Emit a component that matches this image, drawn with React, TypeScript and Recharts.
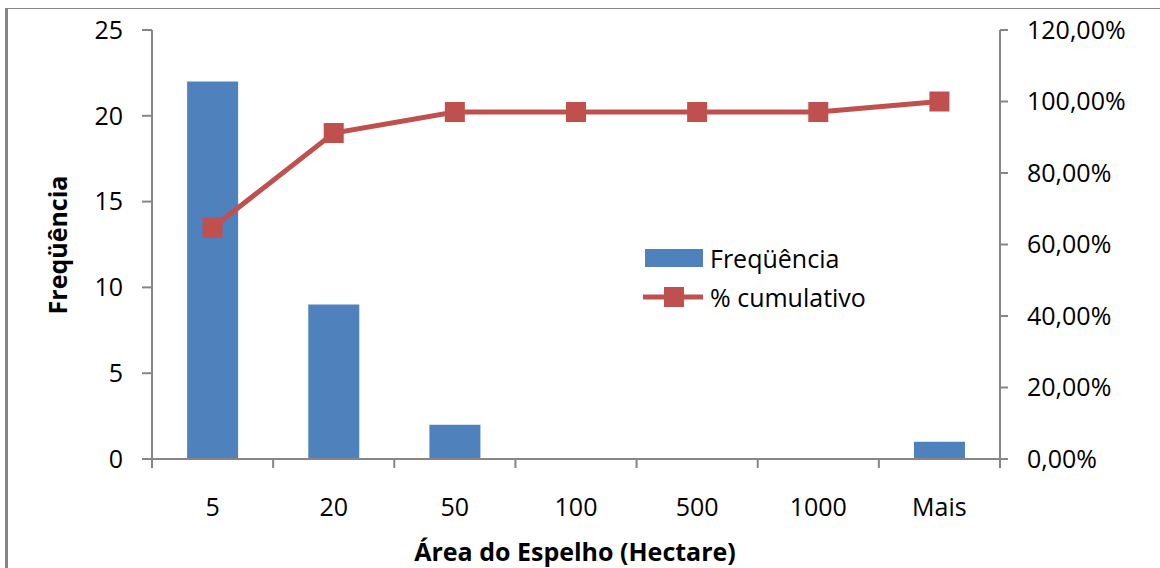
import React from "react";
import { ComposedChart, Bar, Line, XAxis, YAxis } from "recharts";

const categories = ["5", "20", "50", "100", "500", "1000", "Mais"];
const frequencia = [22, 9, 2, 0, 0, 0, 1];
const cumulativo = [0.6471, 0.9118, 0.9706, 0.9706, 0.9706, 0.9706, 1.0];
const leftTicks = [0, 5, 10, 15, 20, 25];
const rightTicks = [0, 0.2, 0.4, 0.6, 0.8, 1.0, 1.2];

const data = categories.map((c, i) => ({ cat: c, freq: frequencia[i], cum: cumulativo[i] }));

const FONT = "'Open Sans', sans-serif";
const FS = 25;
const AXIS = "#868686";
const BLUE = "#4F81BD";
const RED = "#C0504D";
const PLOT_W = 848;

const pct = (v: number) => (v * 100).toFixed(2).replace(".", ",") + "%";

const XTick = (props: any) => {
  const { x, y, payload, index } = props;
  const half = PLOT_W / categories.length / 2;
  return (
    <g>
      <line x1={x - half} x2={x - half} y1={y} y2={y + 9} stroke={AXIS} strokeWidth={2} />
      {index === categories.length - 1 && (
        <line x1={x + half} x2={x + half} y1={y} y2={y + 9} stroke={AXIS} strokeWidth={2} />
      )}
      <text x={x} y={y + 57} textAnchor="middle" fontSize={FS} fontFamily={FONT} fill="#000">
        {payload.value}
      </text>
    </g>
  );
};

const SquareDot = (props: any) => {
  const { cx, cy } = props;
  if (cx == null || cy == null) return null;
  return <rect x={cx - 10} y={cy - 10} width={20} height={20} fill={RED} />;
};

const LegendBox = () => (
  <div
    style={{
      position: "absolute",
      left: 643,
      top: 247,
      fontFamily: FONT,
      fontSize: FS,
      color: "#000",
      lineHeight: "22px",
      whiteSpace: "nowrap",
    }}
  >
    <div style={{ display: "flex", alignItems: "center", height: 22 }}>
      <div style={{ width: 58, height: 18, background: BLUE, marginLeft: 2, marginRight: 7 }} />
      <span>Freqüência</span>
    </div>
    <div style={{ display: "flex", alignItems: "center", height: 22, marginTop: 17 }}>
      <svg width={60} height={20} style={{ marginRight: 7 }}>
        <line x1={0} x2={60} y1={10} y2={10} stroke={RED} strokeWidth={5} />
        <rect x={21} y={0} width={20} height={20} fill={RED} />
      </svg>
      <span>% cumulativo</span>
    </div>
  </div>
);

export default function App() {
  return (
    <div style={{ position: "absolute", left: 0, top: 0, width: 1160, height: 568, background: "#fff", overflow: "hidden" }}>
      <div
        style={{
          position: "absolute",
          left: 5,
          top: 8,
          width: 1200,
          height: 600,
          borderLeft: `3px solid ${AXIS}`,
          borderTop: `1px solid ${AXIS}`,
        }}
      />
      <div style={{ position: "absolute", left: 0, top: 0 }}>
        <ComposedChart
          width={1160}
          height={568}
          data={data}
          margin={{ top: 30, right: 0, bottom: 0, left: 0 }}
          barCategoryGap="29%"
        >
          <XAxis
            dataKey="cat"
            xAxisId="x"
            height={109}
            tickSize={0}
            tickMargin={0}
            tick={<XTick />}
            axisLine={{ stroke: AXIS, strokeWidth: 2 }}
            tickLine={false}
            interval={0}
          />
          <YAxis
            yAxisId="left"
            orientation="left"
            width={152}
            domain={[0, 25]}
            ticks={leftTicks}
            tickSize={10}
            tickMargin={19}
            axisLine={{ stroke: AXIS, strokeWidth: 2 }}
            tickLine={{ stroke: AXIS, strokeWidth: 2 }}
            tick={{ fontSize: FS, fontFamily: FONT, fill: "#000" }}
          />
          <YAxis
            yAxisId="right"
            orientation="right"
            width={160}
            domain={[0, 1.2]}
            ticks={rightTicks}
            tickFormatter={pct}
            tickSize={8}
            tickMargin={19}
            axisLine={{ stroke: AXIS, strokeWidth: 2 }}
            tickLine={{ stroke: AXIS, strokeWidth: 2 }}
            tick={{ fontSize: FS, fontFamily: FONT, fill: "#000" }}
          />
          <Bar dataKey="freq" xAxisId="x" yAxisId="left" fill={BLUE} isAnimationActive={false} />
          <Line
            dataKey="cum"
            xAxisId="x"
            yAxisId="right"
            stroke={RED}
            strokeWidth={5}
            dot={<SquareDot />}
            activeDot={false}
            isAnimationActive={false}
          />
        </ComposedChart>
      </div>
      <LegendBox />
      <div
        style={{
          position: "absolute",
          left: 575,
          top: 551,
          transform: "translate(-50%, -50%)",
          fontFamily: FONT,
          fontWeight: "bold",
          fontSize: 25,
          whiteSpace: "nowrap",
        }}
      >
        Área do Espelho (Hectare)
      </div>
      <div
        style={{
          position: "absolute",
          left: 57,
          top: 245,
          transform: "translate(-50%, -50%) rotate(-90deg)",
          fontFamily: FONT,
          fontWeight: "bold",
          fontSize: 25,
          whiteSpace: "nowrap",
        }}
      >
        Freqüência
      </div>
    </div>
  );
}
